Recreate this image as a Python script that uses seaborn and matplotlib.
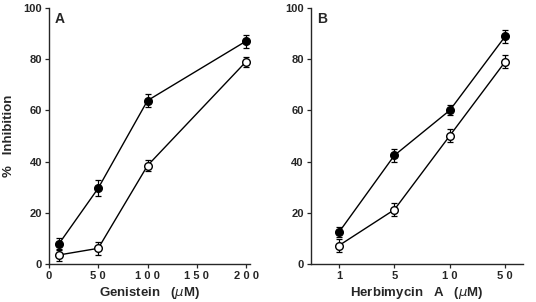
import pandas as pd
import seaborn as sns
import matplotlib.pyplot as plt

# Panel A: Genistein (uM)
gen_dose = [10, 50, 100, 200]
gen_filled = [7.8, 29.6, 63.8, 87.0]
gen_filled_err = [2.5, 3.0, 2.5, 2.5]
gen_open = [3.5, 6.1, 38.4, 79.0]
gen_open_err = [2.5, 2.5, 2.0, 2.0]
gen_ticks = [0, 50, 100, 150, 200]
gen_ticklabels = ["0", "5 0", "1 0 0", "1 5 0", "2 0 0"]

# Panel B: Herbimycin A (uM), evenly spaced categories
herb_labels = ["1", "5", "1 0", "5 0"]
herb_filled = [12.4, 42.4, 60.0, 88.9]
herb_filled_err = [2.0, 2.5, 2.0, 2.5]
herb_open = [7.2, 21.2, 50.1, 79.0]
herb_open_err = [2.5, 2.5, 2.5, 2.5]

sns.set_style("ticks")
plt.rcParams['font.family'] = ['Liberation Sans Narrow', 'Liberation Sans', 'DejaVu Sans']
plt.rcParams['mathtext.fontset'] = 'dejavusans'

fig = plt.figure(figsize=(5.36, 3.02), dpi=100)
axA = fig.add_axes([0.0914, 0.126, 0.375, 0.848])
axB = fig.add_axes([0.5797, 0.126, 0.396, 0.848])


def draw_panel(ax, x, filled, filled_err, opn, opn_err):
    df = pd.DataFrame({
        "x": list(x) * 2,
        "y": list(filled) + list(opn),
        "err": list(filled_err) + list(opn_err),
        "grp": ["filled"] * len(x) + ["open"] * len(x),
    })
    for grp, face in [("open", "white"), ("filled", "black")]:
        sub = df[df["grp"] == grp]
        ax.errorbar(sub["x"], sub["y"], yerr=sub["err"], fmt="none",
                    ecolor="black", elinewidth=0.9, capsize=2.2, capthick=0.9, zorder=2)
        sns.lineplot(data=sub, x="x", y="y", ax=ax, color="black", linewidth=1.0,
                     marker="o", markersize=5.5, markerfacecolor=face,
                     markeredgecolor="black", markeredgewidth=1.0, zorder=3)
    ax.set_ylim(0, 100)
    ax.set_yticks([0, 20, 40, 60, 80, 100])
    sns.despine(ax=ax)
    ax.tick_params(axis="both", direction="out", length=3, width=0.9,
                   labelsize=8, pad=2)
    for lab in ax.get_xticklabels() + ax.get_yticklabels():
        lab.set_fontweight("bold")
    for sp in ["left", "bottom"]:
        ax.spines[sp].set_linewidth(1.0)


draw_panel(axA, gen_dose, gen_filled, gen_filled_err, gen_open, gen_open_err)
axA.set_xlim(0, 204)
axA.set_xticks(gen_ticks)
axA.set_xticklabels(gen_ticklabels, fontweight="bold")
axA.set_xlabel(r"Genistein   ($\mu$M)", fontsize=9.5, fontweight="bold",
               family=["Liberation Sans", "DejaVu Sans"], labelpad=3)
axA.set_ylabel("%   Inhibition", fontsize=9.5, fontweight="bold",
               family=["Liberation Sans", "DejaVu Sans"])
axA.yaxis.set_label_coords(-0.17, 0.5)
axA.text(0.03, 0.985, "A", transform=axA.transAxes, fontsize=10,
         fontweight="bold", va="top")

pos = list(range(len(herb_labels)))
draw_panel(axB, pos, herb_filled, herb_filled_err, herb_open, herb_open_err)
axB.set_xlim(-0.51, 3.32)
axB.set_xticks(pos)
axB.set_xticklabels(herb_labels, fontweight="bold")
axB.set_xlabel(r"Herbimycin   A   ($\mu$M)", fontsize=9.5, fontweight="bold",
               family=["Liberation Sans", "DejaVu Sans"], labelpad=3)
axB.set_ylabel("")
axB.text(0.03, 0.985, "B", transform=axB.transAxes, fontsize=10,
         fontweight="bold", va="top")

fig.savefig("out.png", dpi=100)
